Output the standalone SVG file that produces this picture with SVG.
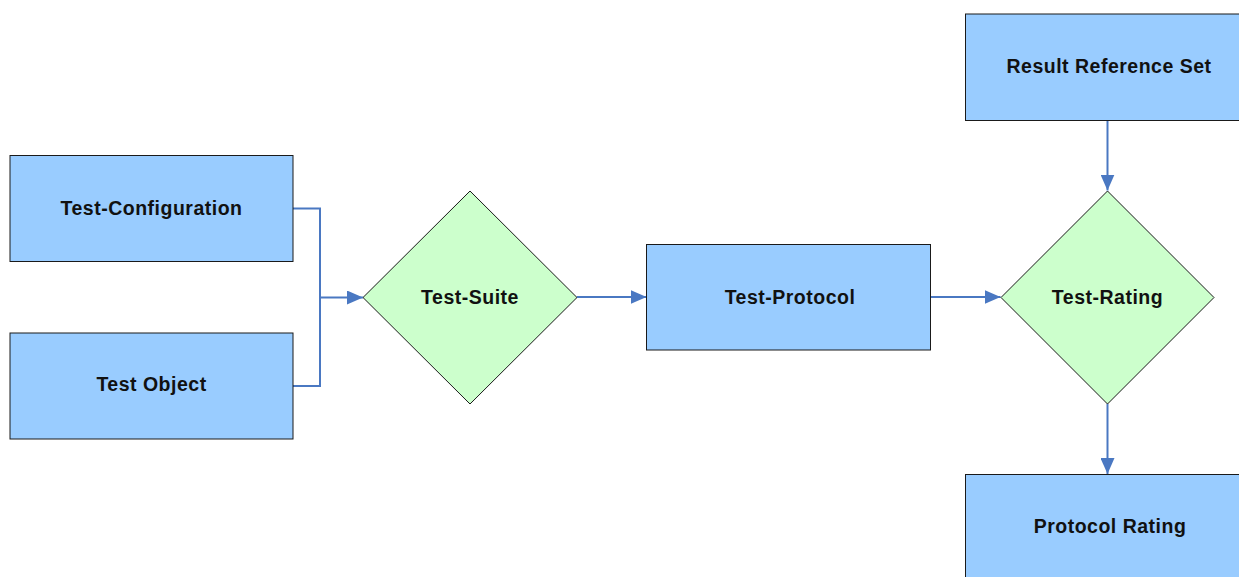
<svg xmlns="http://www.w3.org/2000/svg" width="1239" height="577" viewBox="0 0 1239 577">
  <style>
    .box { fill: #99ccff; stroke: #1a1a1a; stroke-width: 1; }
    .dia { fill: #ccffcc; stroke: #1a1a1a; stroke-width: 1; }
    .lbl { font-family: "Liberation Sans", Arial, sans-serif; font-weight: bold; font-size: 19.5px; letter-spacing: 0.5px; fill: #111; text-anchor: middle; }
    .wire { fill: none; stroke: #4a78c2; stroke-width: 2; }
  </style>
  <defs>
    <marker id="arrow" viewBox="0 0 16 14" refX="16" refY="7" markerWidth="16" markerHeight="14" markerUnits="userSpaceOnUse" orient="auto">
      <path d="M0,0 L16,7 L0,14 Z" fill="#4a78c2"/>
    </marker>
  </defs>
  <rect width="1239" height="577" fill="#ffffff"/>

  <g id="connectors">
    <path class="wire" d="M293,208.5 H320 V386 H293"/>
    <path class="wire" d="M320,297.5 H363" marker-end="url(#arrow)"/>
    <path class="wire" d="M577,297 H646.5" marker-end="url(#arrow)"/>
    <path class="wire" d="M931,297 H1000.5" marker-end="url(#arrow)"/>
    <path class="wire" d="M1107.5,120.5 V190.5" marker-end="url(#arrow)"/>
    <path class="wire" d="M1107.5,404 V474" marker-end="url(#arrow)"/>
  </g>

  <g id="test-configuration">
    <rect class="box" x="10" y="155.5" width="283" height="106"/>
    <text class="lbl" x="151.5" y="215">Test-Configuration</text>
  </g>
  <g id="test-object">
    <rect class="box" x="10" y="333" width="283" height="106"/>
    <text class="lbl" x="151.5" y="391">Test Object</text>
  </g>
  <g id="test-suite">
    <polygon class="dia" points="470,191 577,297.5 470,404 363,297.5"/>
    <text class="lbl" x="470" y="304">Test-Suite</text>
  </g>
  <g id="test-protocol">
    <rect class="box" x="646.5" y="244.5" width="284" height="105.5"/>
    <text class="lbl" x="790" y="304">Test-Protocol</text>
  </g>
  <g id="test-rating">
    <polygon class="dia" points="1107.5,191 1214,297.5 1107.5,404 1001,297.5"/>
    <text class="lbl" x="1107.5" y="304">Test-Rating</text>
  </g>
  <g id="result-reference-set">
    <rect class="box" x="965.5" y="14" width="283" height="106.5"/>
    <text class="lbl" x="1109" y="73">Result Reference Set</text>
  </g>
  <g id="protocol-rating">
    <rect class="box" x="965.5" y="474.5" width="283" height="106"/>
    <text class="lbl" x="1110" y="533">Protocol Rating</text>
  </g>
</svg>
